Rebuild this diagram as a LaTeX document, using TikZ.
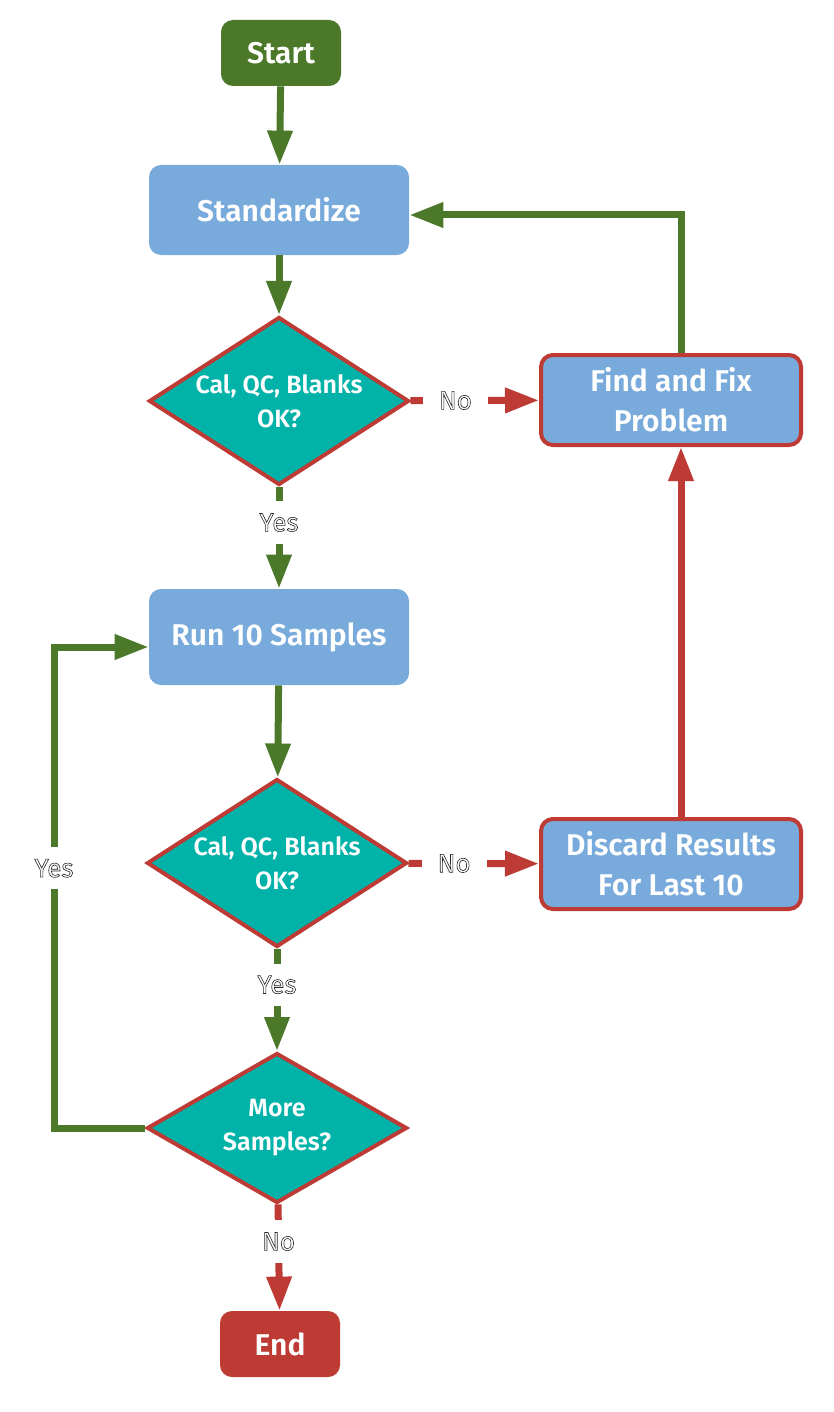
\documentclass[tikz,border=0pt]{standalone}
\usepackage{fontspec}
\setmainfont{Fira Sans}[BoldFont={Fira Sans SemiBold}]
\usetikzlibrary{shapes.geometric,arrows.meta}

\definecolor{flowgreen}{HTML}{4C7829}
\definecolor{flowred}{HTML}{BE3B35}
\definecolor{flowblue}{HTML}{78AADB}
\definecolor{flowteal}{HTML}{00B2A8}

% hollow label text (white fill, thin dark outline)
\newcommand{\hollow}[1]{{\color{white}\special{pdf:literal direct 2 Tr 0.3 w 0.15 0.15 0.15 RG}#1\special{pdf:literal direct 0 Tr}}}

\tikzset{
  terminal/.style={rounded corners=6pt, minimum width=60pt, minimum height=33pt,
    text=white, font=\fontsize{15}{18}\selectfont\bfseries},
  procbox/.style={rounded corners=6pt, fill=flowblue, minimum width=130pt, minimum height=45pt,
    text=white, align=center, font=\fontsize{15}{20}\selectfont\bfseries},
  redbox/.style={procbox, draw=flowred, line width=2pt},
  decision/.style={diamond, aspect=1.55, inner sep=0pt, fill=flowteal, draw=flowred, line width=2pt,
    minimum width=130pt, minimum height=84pt, text=white, align=center,
    font=\fontsize{12.5}{17}\selectfont\bfseries},
  garrow/.style={draw=flowgreen, line width=3.5pt, -{Triangle[length=17pt,width=12pt]}},
  rarrow/.style={draw=flowred, line width=3.5pt, -{Triangle[length=17pt,width=12pt]}},
  lbl/.style={fill=white, inner xsep=8pt, inner ysep=6pt, font=\fontsize{13}{15}\selectfont, pos=0.35}
}

\begin{document}
\begin{tikzpicture}[x=0.5pt, y=-0.5pt]
    \useasboundingbox (0,0) rectangle (834,1412);

    % Nodes
    \node[terminal, fill=flowgreen] (start) at (281,53) {Start};
    \node[procbox] (std) at (279,210) {Standardize};
    \node[decision] (chk1) at (279,401) {Cal, QC, Blanks\\OK?};
    \node[redbox] (fix) at (671,400) {Find and Fix\\Problem};
    \node[procbox, minimum height=48pt] (run) at (279,637) {Run 10 Samples};
    \node[decision] (chk2) at (277,863) {Cal, QC, Blanks\\OK?};
    \node[redbox] (discard) at (671,864) {Discard Results\\For Last 10};
    \node[decision, aspect=1.73, minimum height=75pt] (more) at (277,1128) {More\\Samples?};
    \node[terminal, fill=flowred] (end) at (280,1344) {End};

    % Main flow
    \draw[garrow] (start) -- (std);
    \draw[garrow] (std) -- (chk1);
    \draw[garrow] (chk1) -- node[lbl] (yes1) {\hollow{Yes}} (run);
    \draw[garrow] (run) -- (chk2);
    \draw[garrow] (chk2) -- node[lbl] (yes2) {\hollow{Yes}} (more);
    \draw[rarrow] (more) -- node[lbl] (no3) {\hollow{No}} (end);

    % Failures
    \draw[rarrow] (chk1) -- node[lbl] (no1) {\hollow{No}} (fix);
    \draw[rarrow] (chk2) -- node[lbl] (no2) {\hollow{No}} (discard);
    \draw[rarrow] ([xshift=5pt]discard.north) -- ([xshift=5pt]fix.south);

    % Loops back
    \draw[garrow] ([xshift=5pt]fix.north) |- ([yshift=-2.5pt]std.east);
    \draw[garrow] (more.west) -- ++(-91,0) |- node[lbl, pos=0.27] (yes3) {\hollow{Yes}} ([yshift=-5pt]run.west);
\end{tikzpicture}
\end{document}
